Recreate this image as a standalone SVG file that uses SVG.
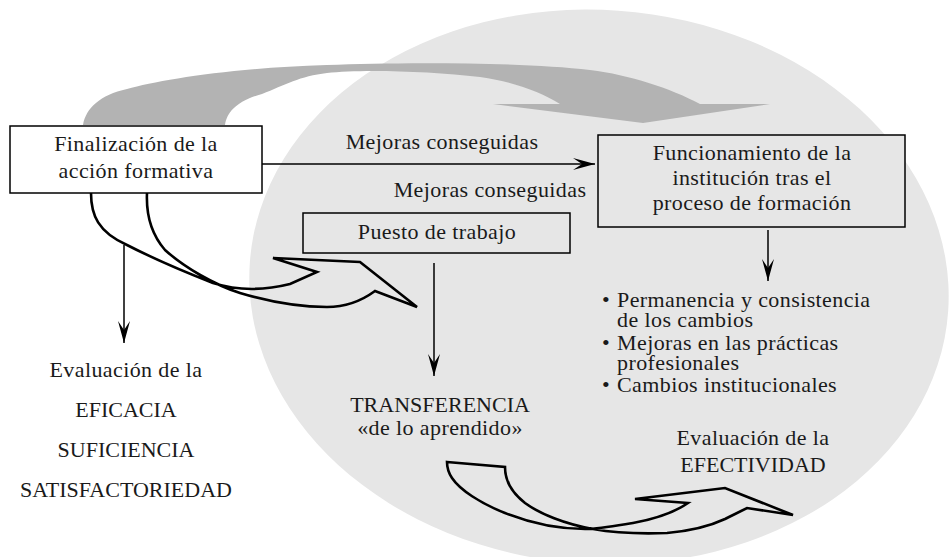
<svg xmlns="http://www.w3.org/2000/svg" width="952" height="557" viewBox="0 0 952 557">
<defs>
<marker id="ah" markerUnits="userSpaceOnUse" markerWidth="24" markerHeight="14" viewBox="-23 -7 24 14" refX="0" refY="0" orient="auto">
<path d="M0,0 L-22,-6 L-13,0 L-22,6 Z" fill="#000"/>
</marker>
<style>
text{font-family:"Liberation Serif","Times New Roman",serif;font-size:22px;fill:#1a1a1a}
.c{text-anchor:middle}
.w{letter-spacing:0.4px}
.box{stroke:#000;stroke-width:1.5}
.ln{stroke:#000;stroke-width:1.5;fill:none}
.rib{stroke:#000;stroke-width:2.6;fill:none;stroke-linejoin:miter}
</style>
</defs>
<rect width="952" height="557" fill="#fff"/>
<ellipse id="zone" cx="599" cy="287" rx="350" ry="277" transform="rotate(4 599 287)" fill="#e6e6e6"/>
<g id="connectors">
<path id="grayArrow" fill="#b3b3b3" d="M83,125 C86,108 100,95 127,89 C160,80 230,68 327,65 C400,62 520,62 590,70 C630,75 670,88 700,104 L770,104 L643,123 L493,104 L560,104 C540,92 515,82 480,77 C430,71 360,69 327,73 C300,76 285,85 262,94 C237,101 227,112 225,125 Z"/>
<line class="ln" x1="262" y1="164" x2="595" y2="164" marker-end="url(#ah)"/>
<line class="ln" x1="124" y1="245" x2="124" y2="343" marker-end="url(#ah)"/>
<line class="ln" x1="434" y1="263" x2="434" y2="376" marker-end="url(#ah)"/>
<line class="ln" x1="768" y1="230" x2="768" y2="281" marker-end="url(#ah)"/>
<path class="rib" d="M91,193 C91,215 98,232 127,245 C160,262 190,274 213,283 C235,290 262,291 290,284 L317,272 L273,258 L360,262 L417,307 L375,291 C360,302 345,307 327,307 C300,307 270,302 240,293 C215,285 185,268 165,250 C152,235 146,215 147,193"/>
<path class="rib" d="M447,462 L505,467 C505,482 512,493 525,503 C540,514 565,524 593,529 C615,533 640,534 667,533 C690,531 710,526 725,519 L747,508 L793,515 L725,488 L635,499 L688,503 C675,512 655,519 633,523 C615,526 600,529 585,529 C560,529 530,523 505,513 C480,503 460,490 452,478 C448,472 447,467 447,462 Z"/>
</g>
<g id="finalizacion">
<rect class="box" x="10" y="126" width="252" height="67" fill="#fff"/>
<text class="c w" x="136" y="151">Finalización de la</text>
<text class="c w" x="136" y="178">acción formativa</text>
</g>
<g id="mejoras1"><text class="c w" x="442" y="149">Mejoras conseguidas</text></g>
<g id="mejoras2"><text class="c w" x="490" y="197">Mejoras conseguidas</text></g>
<g id="funcionamiento">
<rect class="box" x="598" y="135" width="307" height="92" fill="#e6e6e6"/>
<text class="c w" x="752" y="160">Funcionamiento de la</text>
<text class="c w" x="752" y="185">institución tras el</text>
<text class="c w" x="752" y="210">proceso de formación</text>
</g>
<g id="puesto">
<rect class="box" x="303" y="213" width="267" height="40" fill="#e6e6e6"/>
<text class="c w" x="437" y="239">Puesto de trabajo</text>
</g>
<g id="eficacia">
<text class="c w" x="126" y="377">Evaluación de la</text>
<text class="c" x="126" y="417">EFICACIA</text>
<text class="c" x="126" y="457">SUFICIENCIA</text>
<text class="c" x="126" y="497">SATISFACTORIEDAD</text>
</g>
<g id="transferencia">
<text class="c" x="440" y="412">TRANSFERENCIA</text>
<text class="c w" x="440" y="435">«de lo aprendido»</text>
</g>
<g id="cambios">
<text class="w" x="602" y="307">• <tspan x="617">Permanencia y consistencia</tspan><tspan x="617" dy="20">de los cambios</tspan></text>
<text class="w" x="602" y="350">• <tspan x="617">Mejoras en las prácticas</tspan><tspan x="617" dy="20">profesionales</tspan></text>
<text class="w" x="602" y="392">• <tspan x="617">Cambios institucionales</tspan></text>
</g>
<g id="efectividad">
<text class="c w" x="753" y="445">Evaluación de la</text>
<text class="c" x="753" y="472">EFECTIVIDAD</text>
</g>
</svg>
